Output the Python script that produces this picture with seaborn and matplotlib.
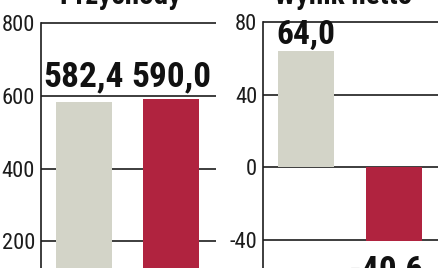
import matplotlib
matplotlib.use("Agg")
import matplotlib.pyplot as plt
import seaborn as sns
import pandas as pd

# ---- data ----
periods = ["okres poprzedni", "okres bieżący"]
revenue = [582.4, 590.0]
net_result = [64.0, -40.6]
revenue_labels = ["582,4", "590,0"]
net_labels = ["64,0", "-40,6"]
revenue_ticks = [200, 400, 600, 800]
net_ticks = [-40, 0, 40, 80]
titles = ["Przychody", "Wynik netto"]

# ---- style ----
GRAY = "#d3d4c8"
RED = "#b0233f"
INK = "#1c1c1c"
COND = "Roboto Condensed"

sns.set_theme(style="white")
plt.rcParams["font.family"] = [COND, "DejaVu Sans"]

W, H = 439, 268
fig = plt.figure(figsize=(W / 100, H / 100), dpi=100)
fig.patch.set_facecolor("white")


def place(left_px, right_px, v_a, y_a, v_b, y_b, lo, hi):
    scale = (y_b - y_a) / (v_a - v_b)
    top_px = y_a - (hi - v_a) * scale
    bot_px = y_a + (v_a - lo) * scale
    return [left_px / W, 1 - bot_px / H, (right_px - left_px) / W, (bot_px - top_px) / H]


def panel(rect, values, labels, ticks, ylim, xlim, width, lab_size, pos_off, neg_off, neg_dx):
    ax = fig.add_axes(rect)
    df = pd.DataFrame({"okres": periods, "wartosc": values})
    sns.barplot(data=df, x="okres", y="wartosc", hue="okres",
                palette=[GRAY, RED], width=width, legend=False,
                saturation=1, ax=ax, zorder=2, linewidth=0, edgecolor="none")
    ax.set_xlim(*xlim)
    ax.set_ylim(*ylim)
    ax.set_yticks(ticks)
    ax.set_yticklabels([str(t) for t in ticks], fontsize=16.2, color=INK,
                       family=COND)
    ax.tick_params(axis="y", length=0, pad=4.2)
    ax.set_xticks([])
    ax.set_xlabel("")
    ax.set_ylabel("")
    ax.yaxis.grid(True, color=INK, lw=1.2)
    ax.set_axisbelow(True)
    for s in ["top", "right", "bottom"]:
        ax.spines[s].set_visible(False)
    ax.spines["left"].set_color(INK)
    ax.spines["left"].set_linewidth(1.2)
    ax.spines["left"].set_bounds(ylim[0], max(ticks))
    top = max(values)
    for i, (v, lab) in enumerate(zip(values, labels)):
        if v >= 0:
            ax.annotate(lab, (i, top), xytext=(0, pos_off), textcoords="offset pixels",
                        ha="center", va="baseline", fontsize=lab_size,
                        fontweight="bold", color="#111111", family=COND,
                        annotation_clip=False)
        else:
            ax.annotate(lab, (i, v), xytext=(neg_dx, -neg_off), textcoords="offset pixels",
                        ha="center", va="top", fontsize=25.5,
                        fontweight="bold", color="#111111", family=COND,
                        annotation_clip=False)
    return ax


ax1 = panel(place(41, 216, 800, 23, 200, 241.3, 0, 806),
            revenue, revenue_labels, revenue_ticks, (0, 806),
            (-0.494, 1.517), 0.644, 25.5, 13, 13, 0)
ax2 = panel(place(263, 439, 80, 22.3, -40, 240, -60, 81.2),
            net_result, net_labels, net_ticks, (-60, 81.2),
            (-0.489, 1.511), 0.636, 24, 7.7, 13, -8)

fig.text(120 / W, 1 - 4 / H, titles[0], ha="center", va="baseline",
         fontsize=21, fontweight="bold", color="#111111", family=COND)
fig.text(343 / W, 1 - 4 / H, titles[1], ha="center", va="baseline",
         fontsize=21, fontweight="bold", color="#111111", family=COND)

fig.savefig("out.png", dpi=100, facecolor="white")
